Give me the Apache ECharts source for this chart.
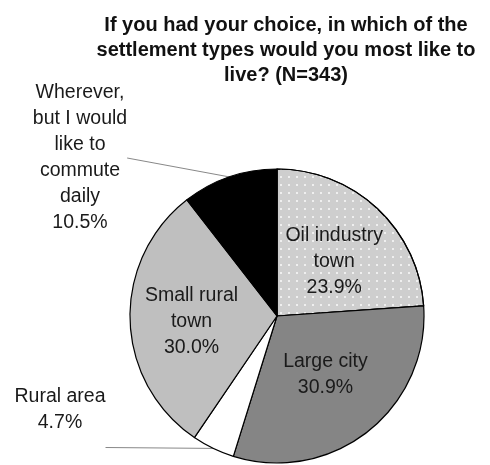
<!DOCTYPE html>
<html>
<head>
<meta charset="utf-8">
<script src="https://cdn.jsdelivr.net/npm/echarts@6/dist/echarts.min.js"></script>
<style>html,body{margin:0;padding:0;background:#fff;}#c{width:490px;height:465px;}</style>
</head>
<body>
<div id="c"></div>
<script>
var categories = ['Oil industry town', 'Large city', 'Rural area', 'Small rural town', 'Wherever, but I would like to commute daily'];
var labelNames = ['Oil industry\ntown', 'Large city', 'Rural area', 'Small rural\ntown', 'Wherever,\nbut I would\nlike to\ncommute\ndaily'];
var values = [23.9, 30.9, 4.7, 30.0, 10.5];
var titleText = 'If you had your choice, in which of the\nsettlement types would you most like to\nlive? (N=343)';

var fills = ['#cecece', '#858585', '#ffffff', '#bfbfbf', '#000000'];
var insideLabel = [true, true, false, true, false];
var outsidePos = {2: {x: 60, y: 384, padding: [0, 0, 75, 0]}, 4: {x: 80, y: 80, padding: 0}};
var insideShift = {0: {dx: 5, dy: 2}, 1: {dx: 1, dy: -1}, 3: {dx: -9, dy: 3}};

var data = categories.map(function (c, i) {
  var item = {
    name: c,
    value: values[i],
    itemStyle: {color: fills[i]},
    label: {position: insideLabel[i] ? 'inside' : 'outside'},
    labelLine: {show: !insideLabel[i], length: 4, length2: 0}
  };
  if (outsidePos[i]) {
    item.label.padding = outsidePos[i].padding;
  }
  if (i === 0) {
    item.itemStyle.decal = {
      symbol: 'circle',
      symbolSize: 1,
      color: 'rgba(255,255,255,0.9)',
      dashArrayX: [2, 6],
      dashArrayY: [2, 6],
      rotation: 0
    };
  }
  return item;
});

var chart = echarts.init(document.getElementById('c'), null, {renderer: 'canvas'});
chart.setOption({
  animation: false,
  backgroundColor: '#fff',
  title: {
    text: titleText,
    left: 281,
    top: 8,
    textAlign: 'center',
    textStyle: {
      fontFamily: 'Liberation Sans, Arial, sans-serif',
      fontWeight: 'bold',
      fontSize: 20,
      lineHeight: 25,
      color: '#111'
    }
  },
  series: [{
    type: 'pie',
    center: [277, 316],
    radius: 147,
    startAngle: 90,
    clockwise: true,
    avoidLabelOverlap: false,
    data: data,
    itemStyle: {borderColor: '#000', borderWidth: 1.2},
    label: {
      formatter: function (p) {
        return labelNames[p.dataIndex] + '\n' + values[p.dataIndex].toFixed(1) + '%';
      },
      fontFamily: 'Liberation Sans, Arial, sans-serif',
      fontSize: 19.5,
      lineHeight: 26,
      color: '#1a1a1a',
      align: 'center'
    },
    labelLine: {
      lineStyle: {color: '#888', width: 1}
    },
    labelLayout: function (p) {
      var i = p.dataIndex;
      if (outsidePos[i]) {
        return {x: outsidePos[i].x, y: outsidePos[i].y, align: 'center', verticalAlign: 'top'};
      }
      if (insideShift[i]) {
        return {dx: insideShift[i].dx, dy: insideShift[i].dy};
      }
      return {};
    }
  }]
});
</script>
</body>
</html>
